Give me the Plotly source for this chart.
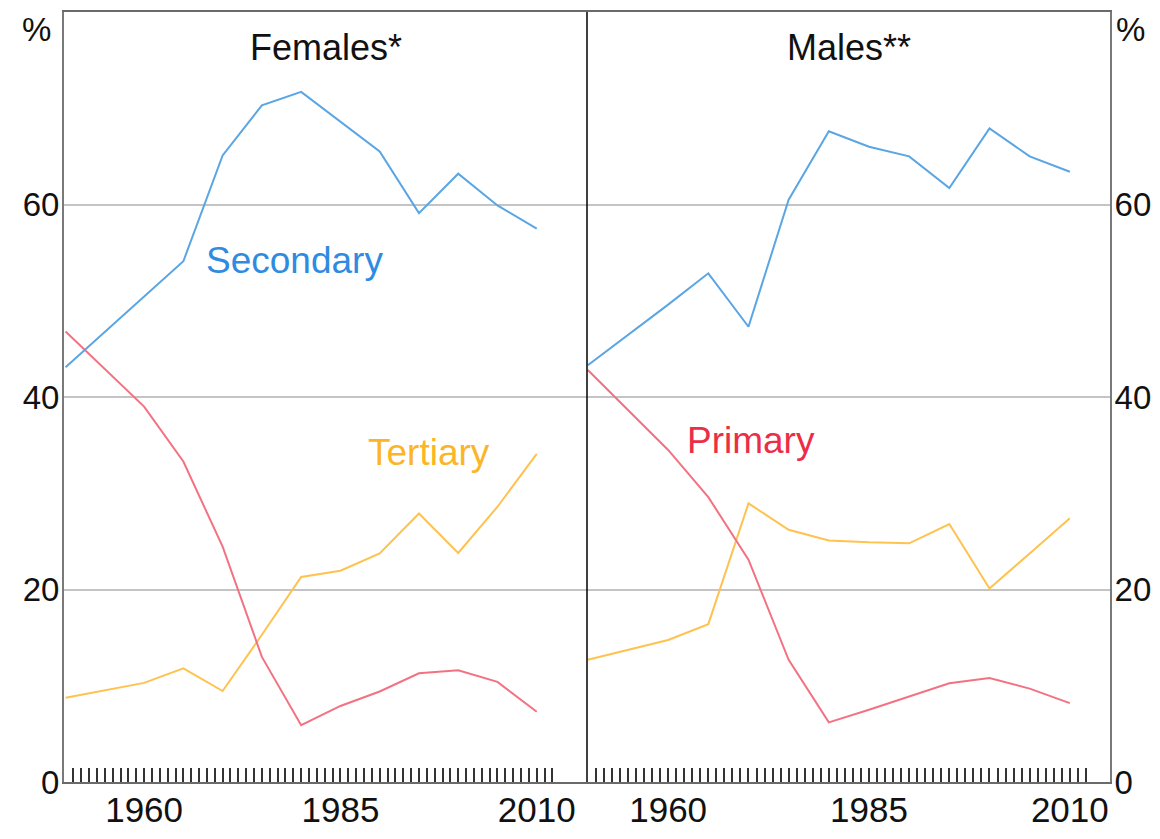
import plotly.graph_objects as go

# ---- data ----
years = [1950, 1960, 1965, 1970, 1975, 1980, 1985, 1990, 1995, 2000, 2005, 2010]
fem_secondary = [43.1, 50.5, 54.1, 65.1, 70.3, 71.7, 68.6, 65.5, 59.1, 63.2, 59.9, 57.5]
fem_tertiary = [8.75, 10.3, 11.8, 9.45, 15.3, 21.3, 21.95, 23.75, 27.9, 23.8, 28.6, 34.1]
fem_primary = [46.8, 39.0, 33.3, 24.45, 13.0, 5.9, 7.9, 9.4, 11.3, 11.6, 10.4, 7.3]
male_secondary = [43.3, 49.6, 52.85, 47.3, 60.5, 67.6, 66.0, 65.0, 61.7, 67.9, 65.0, 63.4]
male_tertiary = [12.7, 14.75, 16.4, 28.95, 26.2, 25.1, 24.9, 24.8, 26.8, 20.1, 23.75, 27.4]
male_primary = [42.8, 34.5, 29.6, 23.1, 12.7, 6.2, 7.5, 8.85, 10.25, 10.8, 9.7, 8.2]

x_labels = [1960, 1985, 2010]
minor_years = list(range(1951, 2013))
y_ticks = [0, 20, 40, 60]
panel_titles = ["Females*", "Males**"]

BLUE = "#5aa5e3"
RED = "#f37282"
ORANGE = "#ffc24f"
FONT = "Liberation Sans, Arial, sans-serif"

fig = go.Figure()

for xa, ya, sec, ter, pri in [("x", "y", fem_secondary, fem_tertiary, fem_primary),
                              ("x2", "y2", male_secondary, male_tertiary, male_primary)]:
    for vals, col in [(ter, ORANGE), (pri, RED), (sec, BLUE)]:
        fig.add_trace(go.Scatter(x=years, y=vals, mode="lines", xaxis=xa, yaxis=ya,
                                 line=dict(color=col, width=2), showlegend=False,
                                 hoverinfo="skip"))

xcommon = dict(
    tickvals=x_labels, ticktext=[str(v) for v in x_labels],
    ticks="inside", ticklen=14, tickwidth=1.5, tickcolor="#333",
    minor=dict(tickvals=minor_years, ticks="inside", ticklen=14, tickwidth=1.5, tickcolor="#333"),
    showline=True, linecolor="#6a6a6a", linewidth=2, mirror=True,
    showgrid=False, zeroline=False, automargin=False,
    ticklabelstandoff=-4,
    tickfont=dict(family=FONT, size=35, color="#111"),
)
ycommon = dict(
    range=[0, 80], tickvals=y_ticks, ticktext=[str(v) for v in y_ticks],
    showgrid=True, gridcolor="#c4c4c4", gridwidth=1.5, zeroline=False,
    showline=True, linecolor="#7a7a7a", linewidth=2, ticks="", automargin=False,
    ticklabelstandoff=-4,
    tickfont=dict(family=FONT, size=33, color="#111"),
)

# page body has an 8px margin, so the figure is sized/offset to land the frame at
# x 64..1110, y 12..782 of the 1160x839 window without causing page overflow
fig.update_layout(
    width=1144, height=823,
    margin=dict(l=56, r=42, t=4, b=49, autoexpand=False),
    plot_bgcolor="white", paper_bgcolor="white",
    xaxis=dict(domain=[0, 0.5], range=[1949.8, 2016.4], anchor="y", **xcommon),
    xaxis2=dict(domain=[0.5, 1], range=[1949.9, 2015.0], anchor="y2", **xcommon),
    yaxis=dict(anchor="x", side="left", **ycommon),
    yaxis2=dict(anchor="x2", side="right", **ycommon),
    font=dict(family=FONT),
)

fig.add_shape(type="line", xref="paper", yref="paper", x0=0.5, x1=0.5, y0=0, y1=1,
              line=dict(color="black", width=1.5), layer="above")

annotations = [
    dict(text=panel_titles[0], x=0.25, y=0.9545, xref="paper", yref="paper",
         showarrow=False, font=dict(size=36, color="#111"), xanchor="center", yanchor="middle"),
    dict(text=panel_titles[1], x=0.75, y=0.9545, xref="paper", yref="paper",
         showarrow=False, font=dict(size=36, color="#111"), xanchor="center", yanchor="middle"),
    dict(text="%", x=0, y=1, xref="paper", yref="paper", xanchor="right", yanchor="middle",
         xshift=-11, yshift=-17, showarrow=False, font=dict(size=33, color="#111")),
    dict(text="%", x=1, y=1, xref="paper", yref="paper", xanchor="left", yanchor="middle",
         xshift=4, yshift=-17, showarrow=False, font=dict(size=33, color="#111")),
    dict(text="Secondary", x=1979.2, y=54.2, xref="x", yref="y", showarrow=False,
         font=dict(size=37, color="#2f8be0"), xanchor="center", yanchor="middle"),
    dict(text="Tertiary", x=1996.3, y=34.2, xref="x", yref="y", showarrow=False,
         font=dict(size=37, color="#fbb526"), xanchor="center", yanchor="middle"),
    dict(text="Primary", x=1970.3, y=35.5, xref="x2", yref="y2", showarrow=False,
         font=dict(size=37, color="#ec2d47"), xanchor="center", yanchor="middle"),
]
fig.update_layout(annotations=annotations)

fig.write_html("out.html")
